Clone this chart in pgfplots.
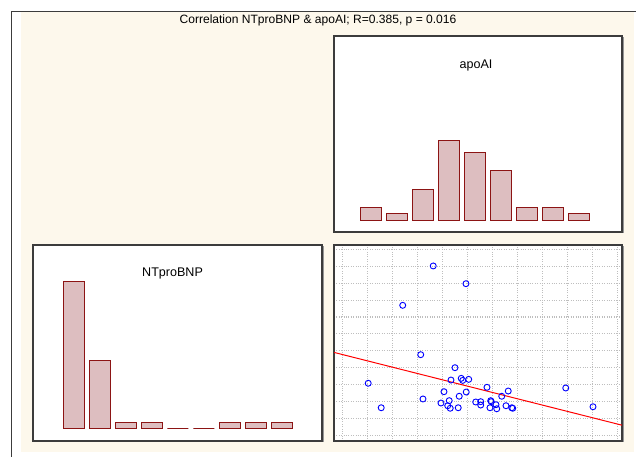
\documentclass[border=0pt]{standalone}
\usepackage{pgfplots}
\pgfplotsset{compat=1.18}
\usepackage{fontspec}
\setmainfont{Liberation Sans}
\definecolor{cream}{RGB}{253,248,236}
\definecolor{barfill}{RGB}{221,190,192}
\definecolor{bardraw}{RGB}{140,20,20}
\definecolor{framec}{RGB}{60,60,60}
\definecolor{shadow}{RGB}{150,150,150}
\definecolor{gridc}{RGB}{190,190,190}
\pgfplotsset{
  panel/.style={scale only axis, axis background/.style={fill=white},
    axis line style={draw=framec, line width=1.1bp}, xtick=\empty, ytick=\empty},
  hist/.style={panel, ybar, bar width=21bp},
  barst/.style={fill=barfill, draw=bardraw, line width=0.9bp},
}
\begin{document}
\begin{tikzpicture}
\useasboundingbox (0bp,0bp) rectangle (636bp,457bp);
\fill[cream] (21bp,5bp) rectangle (634bp,446bp);
\draw[framec, line width=1bp] (11.5bp,0bp) -- (11.5bp,445.5bp) -- (636bp,445.5bp);
\node[font=\fontsize{12.1}{14}\selectfont] at (318bp,436.5bp) {Correlation NTproBNP \& apoAI; R=0.385, p = 0.016};
% shadows
\fill[shadow] (335.5bp,223.5bp) rectangle (623.8bp,419.5bp);
\fill[shadow] (34.5bp,14.5bp) rectangle (323.8bp,210.5bp);
\fill[shadow] (335.5bp,14.5bp) rectangle (623.8bp,210.5bp);

% apoAI histogram (top right)
\begin{axis}[hist, at={(334bp,225bp)}, anchor=south west, width=288bp, height=196bp,
  xmin=-0.431, xmax=10.646, ymin=-1.951, ymax=29.92]
\addplot[barst] coordinates {(1,2) (2,1) (3,5) (4,13) (5,11) (6,8) (7,2) (8,2) (9,1)};
\node[font=\fontsize{12.6}{15}\selectfont] at (rel axis cs:0.493,0.852) {apoAI};
\end{axis}

% NTproBNP histogram (bottom left)
\begin{axis}[hist, at={(33bp,16bp)}, anchor=south west, width=289bp, height=196bp,
  xmin=-0.569, xmax=10.546, ymin=-2.25, ymax=32.5]
\addplot[barst] coordinates {(1,26) (2,12) (3,1) (4,1) (5,0) (6,0) (7,1) (8,1) (9,1)};
\node[font=\fontsize{12.6}{15}\selectfont] at (rel axis cs:0.483,0.856) {NTproBNP};
\end{axis}

% scatter (bottom right)
\begin{axis}[panel, at={(334bp,16bp)}, anchor=south west, width=288bp, height=196bp,
  xmin=0.652, xmax=12.17, ymin=0.663, ymax=12.26,
  xtick={1,...,12}, ytick={1,...,12}, xticklabels={}, yticklabels={},
  major tick length=0pt, grid=major,
  grid style={gridc, dotted, line width=1.1bp}]
\addplot[only marks, mark=o, mark size=3bp, mark options={line width=0.9bp}, blue] coordinates {
(4.62,11.02) (5.93,9.97) (3.40,8.69) (4.12,5.77) (2.02,4.08) (2.54,2.63)
(4.21,3.15) (9.92,3.80) (11.01,2.69)
(5.49,5.00) (5.33,4.27) (5.74,4.37) (5.80,4.25) (6.04,4.31) (5.05,3.58)
(5.94,3.56) (6.77,3.84) (7.62,3.62) (7.36,3.31) (4.93,2.91) (5.26,3.05)
(5.20,2.75) (5.30,2.60) (5.66,3.31) (5.62,2.63) (6.32,2.97) (6.52,2.99)
(6.52,2.79) (6.92,3.05) (6.94,2.99) (6.89,2.63) (7.13,2.81) (7.16,2.57)
(7.53,2.75) (7.76,2.63) (7.80,2.60)
};
\addplot[red, line width=1bp] coordinates {(0.652,5.905) (12.17,1.598)};
\end{axis}
\end{tikzpicture}
\end{document}
